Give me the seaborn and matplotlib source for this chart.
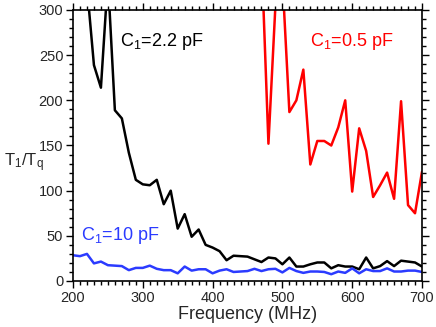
import matplotlib
matplotlib.use("Agg")
import matplotlib.pyplot as plt
from matplotlib.ticker import MultipleLocator
import seaborn as sns
import pandas as pd

freq = list(range(200, 701, 10))
black_2p2 = [420, 380, 326, 239, 214, 335, 189, 180, 142, 112,
             107, 106, 112, 85, 100, 58, 74, 49, 57, 40,
             37, 33, 23, 28, 27.5, 27, 24, 21, 26, 25,
             18.5, 26, 16, 16, 18.5, 20.5, 20.5, 14, 17.5, 16,
             16, 13, 26, 14, 16.5, 22, 16.5, 22.5, 21.5, 20.5,
             16]
blue_10 = [28.5, 27.5, 30, 19.5, 21.5, 17.5, 17, 16.5, 12, 14.5,
           14.5, 17, 13.5, 12, 12, 8.5, 16, 11.5, 13, 13,
           8.5, 11.5, 13, 10, 10.5, 11, 13.5, 11, 13, 13.5,
           9.5, 14.5, 11, 9, 10.5, 10.5, 10, 7.5, 10.5, 9,
           14, 8.5, 13, 11, 11, 14, 10.5, 10.5, 11.5, 11.5,
           10]
freq_red = list(range(470, 701, 10))
red_0p5 = [363, 152, 305, 335, 187, 200, 234, 129, 155, 155,
           150, 170, 200, 99, 169, 144, 93, 106, 120, 91,
           199, 84, 75, 121]

labels = [r"C$_\mathregular{1}$=2.2 pF", r"C$_\mathregular{1}$=0.5 pF", r"C$_\mathregular{1}$=10 pF"]
xlabel = "Frequency (MHz)"
ylabel = r"T$_\mathregular{1}$/T$_\mathregular{q}$"

sns.set_style("ticks")
plt.rcParams['font.family'] = ['Liberation Sans', 'DejaVu Sans']
plt.rcParams['mathtext.fontset'] = 'custom'
plt.rcParams['mathtext.rm'] = 'Liberation Sans'
plt.rcParams['mathtext.it'] = 'Liberation Sans:italic'

fig = plt.figure(figsize=(4.36, 3.27), dpi=100)
ax = fig.add_axes([73/436, 1-281/327, (422-73)/436, (281-10)/327])

df_b = pd.DataFrame({"f": freq, "v": black_2p2})
df_bl = pd.DataFrame({"f": freq, "v": blue_10})
df_r = pd.DataFrame({"f": freq_red, "v": red_0p5})
sns.lineplot(data=df_b, x="f", y="v", ax=ax, color="black", lw=1.8)
sns.lineplot(data=df_r, x="f", y="v", ax=ax, color="#FF0000", lw=1.8)
sns.lineplot(data=df_bl, x="f", y="v", ax=ax, color="#2B3BFF", lw=1.8)

ax.set_xlim(200, 700)
ax.set_ylim(0, 300)
ax.xaxis.set_major_locator(MultipleLocator(100))
ax.xaxis.set_minor_locator(MultipleLocator(10))
ax.yaxis.set_major_locator(MultipleLocator(50))
ax.yaxis.set_minor_locator(MultipleLocator(10))
ax.tick_params(which='both', direction='out', top=True, right=True,
               labeltop=False, labelright=False, width=1.0, color='black')
ax.tick_params(which='major', length=5, labelsize=10.5, pad=2)
ax.tick_params(which='minor', length=3)
for s in ax.spines.values():
    s.set_visible(True)
    s.set_linewidth(1.2)
    s.set_color('black')

ax.set_xlabel(xlabel, fontsize=13, labelpad=1)
ax.set_ylabel("")
fig.text(4/436, 1-163/327, ylabel, fontsize=12, ha='left', va='center')

ax.text(120/436, 1-42/327, labels[0], transform=fig.transFigure, fontsize=13,
        color='black', ha='left', va='center')
ax.text(310/436, 1-42/327, labels[1], transform=fig.transFigure, fontsize=13,
        color='#FF0000', ha='left', va='center')
ax.text(81/436, 1-236/327, labels[2], transform=fig.transFigure, fontsize=13,
        color='#2B3BFF', ha='left', va='center')

fig.savefig("out.png", dpi=100)
